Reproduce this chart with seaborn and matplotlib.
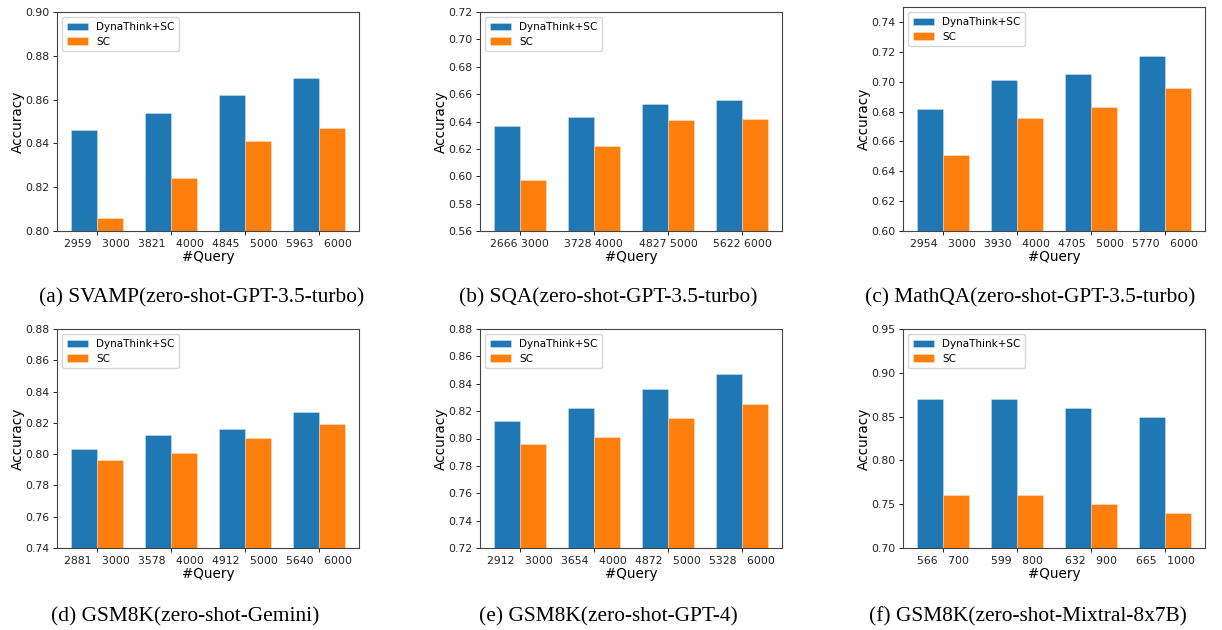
import numpy as np
import pandas as pd
import matplotlib
matplotlib.use("Agg")
import matplotlib.pyplot as plt
import seaborn as sns

# ---------------- data ----------------
series_names = ["DynaThink+SC", "SC"]
series_colors = ["#1f77b4", "#ff7f0e"]

a_dyn_queries = [2959, 3821, 4845, 5963]
a_sc_queries = [3000, 4000, 5000, 6000]
a_dyn_acc = [0.846, 0.854, 0.862, 0.870]
a_sc_acc = [0.806, 0.824, 0.841, 0.847]

b_dyn_queries = [2666, 3728, 4827, 5622]
b_sc_queries = [3000, 4000, 5000, 6000]
b_dyn_acc = [0.637, 0.643, 0.653, 0.656]
b_sc_acc = [0.597, 0.622, 0.641, 0.642]

c_dyn_queries = [2954, 3930, 4705, 5770]
c_sc_queries = [3000, 4000, 5000, 6000]
c_dyn_acc = [0.682, 0.701, 0.705, 0.717]
c_sc_acc = [0.651, 0.676, 0.683, 0.696]

d_dyn_queries = [2881, 3578, 4912, 5640]
d_sc_queries = [3000, 4000, 5000, 6000]
d_dyn_acc = [0.803, 0.812, 0.816, 0.827]
d_sc_acc = [0.796, 0.801, 0.810, 0.819]

e_dyn_queries = [2912, 3654, 4872, 5328]
e_sc_queries = [3000, 4000, 5000, 6000]
e_dyn_acc = [0.813, 0.822, 0.836, 0.847]
e_sc_acc = [0.796, 0.801, 0.815, 0.825]

f_dyn_queries = [566, 599, 632, 665]
f_sc_queries = [700, 800, 900, 1000]
f_dyn_acc = [0.87, 0.87, 0.86, 0.85]
f_sc_acc = [0.76, 0.76, 0.75, 0.74]

captions = [
    "(a) SVAMP(zero-shot-GPT-3.5-turbo)",
    "(b) SQA(zero-shot-GPT-3.5-turbo)",
    "(c) MathQA(zero-shot-GPT-3.5-turbo)",
    "(d) GSM8K(zero-shot-Gemini)",
    "(e) GSM8K(zero-shot-GPT-4)",
    "(f) GSM8K(zero-shot-Mixtral-8x7B)",
]
y_ranges = [(0.80, 0.90), (0.56, 0.72), (0.60, 0.75), (0.74, 0.88), (0.72, 0.88), (0.70, 0.95)]
y_tick_tops = [0.90, 0.72, 0.74, 0.88, 0.88, 0.95]
y_steps = [0.02, 0.02, 0.02, 0.02, 0.02, 0.05]
label_seps = ["   ", " ", "   ", "   ", "   ", "   "]

panels = [
    (a_dyn_queries, a_sc_queries, a_dyn_acc, a_sc_acc),
    (b_dyn_queries, b_sc_queries, b_dyn_acc, b_sc_acc),
    (c_dyn_queries, c_sc_queries, c_dyn_acc, c_sc_acc),
    (d_dyn_queries, d_sc_queries, d_dyn_acc, d_sc_acc),
    (e_dyn_queries, e_sc_queries, e_dyn_acc, e_sc_acc),
    (f_dyn_queries, f_sc_queries, f_dyn_acc, f_sc_acc),
]

# ---------------- layout (pixels) ----------------
W, H = 1222, 630
axes_px = [  # left, right, top, bottom
    (57, 359, 12, 231),
    (480, 782, 12, 231),
    (903, 1205, 7, 231),
    (57, 359, 329, 548),
    (480, 782, 329, 548),
    (903, 1205, 329, 548),
]
caption_px = [(202, 298), (608, 298), (1030, 298), (185, 617), (608, 617), (1028, 617)]

fig = plt.figure(figsize=(W / 100, H / 100), dpi=100)
fig.patch.set_facecolor("white")

for i, (dq, sq, da, sa) in enumerate(panels):
    L, R, T, B = axes_px[i]
    ax = fig.add_axes([L / W, (H - B) / H, (R - L) / W, (B - T) / H])
    groups = [f"{q1}{label_seps[i]}{q2}" for q1, q2 in zip(dq, sq)]
    df = pd.DataFrame({
        "group": groups * 2,
        "method": [series_names[0]] * len(groups) + [series_names[1]] * len(groups),
        "acc": list(da) + list(sa),
    })
    sns.barplot(data=df, x="group", y="acc", hue="method", order=groups,
                hue_order=series_names, palette=series_colors, saturation=1,
                width=0.7, ax=ax, errorbar=None,
                edgecolor=(1, 1, 1, 0.35), linewidth=0.6)
    lo, hi = y_ranges[i]
    ax.set_ylim(lo, hi)
    ticks = np.arange(lo, y_tick_tops[i] + 1e-9, y_steps[i])
    ax.set_yticks(ticks)
    ax.set_yticklabels([f"{t:.2f}" for t in ticks])
    ax.set_xlim(-0.535, 3.535)
    ax.set_xlabel("#Query", fontsize=9.8, labelpad=1)
    ax.set_ylabel("Accuracy", fontsize=9.8, labelpad=0.5)
    ax.tick_params(axis="both", labelsize=7.8, length=3, width=0.7, pad=2.5, colors="#222222")
    for s in ax.spines.values():
        s.set_color("#444444")
        s.set_linewidth(0.8)
    ax.set_facecolor("white")
    ax.legend(loc="upper left", fontsize=7.5, frameon=True, framealpha=0.8,
              edgecolor="#cccccc", handlelength=2.0, borderpad=0.45,
              labelspacing=0.45)
    cx, cy = caption_px[i]
    fig.text(cx / W, (H - cy) / H, captions[i], ha="center", va="center",
             fontsize=15.4, family="Liberation Serif", color="black")

fig.savefig("out.png", dpi=100, facecolor="white")
